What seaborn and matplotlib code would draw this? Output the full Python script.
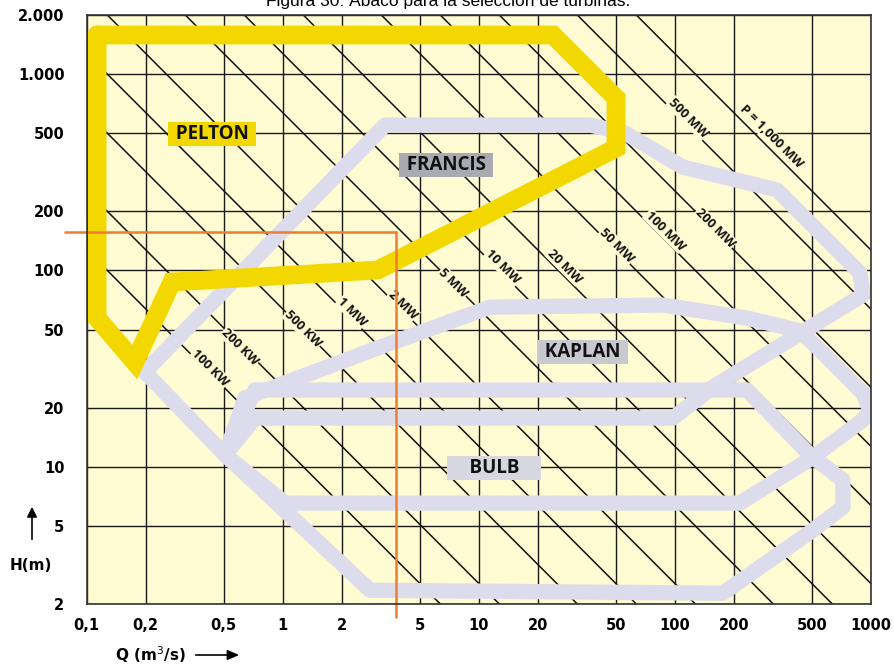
import numpy as np
import pandas as pd
import matplotlib
matplotlib.use("Agg")
import matplotlib.pyplot as plt
import seaborn as sns

# ---------------- data ----------------
x_ticks = [0.1, 0.2, 0.5, 1, 2, 5, 10, 20, 50, 100, 200, 500, 1000]
x_tick_labels = ["0,1", "0,2", "0,5", "1", "2", "5", "10", "20", "50", "100", "200", "500", "1000"]
y_ticks = [2, 5, 10, 20, 50, 100, 200, 500, 1000, 2000]
y_tick_labels = ["2", "5", "10", "20", "50", "100", "200", "500", "1.000", "2.000"]

power_kw = [100, 200, 500, 1e3, 2e3, 5e3, 1e4, 2e4, 5e4, 1e5, 2e5, 5e5, 1e6]
power_labels = ["100 KW", "200 KW", "500 KW", "1 MW", "2 MW", "5 MW", "10 MW",
                "20 MW", "50 MW", "100 MW", "200 MW", "500 MW", "P = 1,000 MW"]
label_q = [0.426, 0.606, 1.27, 2.26, 4.11, 7.40, 13.3, 27.5, 50.8, 89.3, 160.7, 117, 310]
label_h = [31.8, 40.7, 50.3, 61.4, 66.7, 86.3, 104, 105, 134, 159, 164, 597, 478]
kw_per_qh = 7.85  # P = 0.8 * 9.81 * Q * H

pelton_q = [0.113, 23.9, 50.2, 50.2, 3.06, 0.272, 0.176, 0.113, 0.113]
pelton_h = [1582, 1582, 755, 420, 100.5, 87.3, 34.1, 57.2, 1582]

francis_q = [0.198, 3.33, 37.0, 55.8, 110, 333, 882, 913, 157, 98, 0.722, 0.508, 0.198]
francis_h = [30.4, 550, 550, 501, 336, 257, 97, 75, 25.5, 17.7, 17.7, 11.5, 30.4]

kaplan_q = [0.643, 3.14, 11.4, 87, 234, 421, 508, 913, 992, 913, 508, 215, 1.03, 0.508, 0.643]
kaplan_h = [22.4, 40.7, 65, 66.6, 57.2, 49.7, 42.7, 23.7, 19.4, 17.3, 11.2, 6.53, 6.53, 11.5, 22.4]

bulb_q = [0.722, 234, 490, 722, 722, 508, 176, 2.79, 0.508, 0.722]
bulb_h = [24.6, 24.6, 11.5, 8.55, 6.23, 4.76, 2.27, 2.35, 11.5, 24.6]

region_names = [" PELTON ", " FRANCIS ", " KAPLAN ", "    BULB    "]
region_label_q = [0.436, 6.81, 34.0, 11.97]
region_label_h = [495, 344, 38.4, 9.85]

crosshair_q = [0.0775, 3.78, 3.78]
crosshair_h = [157, 157, 1.71]

# ---------------- style ----------------
sns.set_theme(style="white")
plt.rcParams["font.family"] = ["Open Sans", "DejaVu Sans"]

BG = "#FFFBD2"
YEL = "#F2D700"
GREY = "#DCDCEC"
ORANGE = "#EE7D31"
TICKFONT = ["DejaVu Sans"]

fig = plt.figure(figsize=(8.95, 6.66), dpi=100)
fig.patch.set_facecolor("white")
ax = fig.add_axes([86.7 / 895, 62 / 666, 784 / 895, 589 / 666])
ax.set_facecolor(BG)
ax.set_xscale("log")
ax.set_yscale("log")
ax.set_xlim(0.1, 1000)
ax.set_ylim(2, 2000)

# grid
for xv in x_ticks:
    ax.axvline(xv, color="#1a1a1a", lw=1.0, zorder=1)
for yv in y_ticks:
    ax.axhline(yv, color="#1a1a1a", lw=1.0, zorder=1)

# power lines
qq = np.logspace(-2, 4, 50)
rows = []
for p in power_kw:
    for q in qq:
        rows.append({"Q": q, "H": p / (kw_per_qh * q), "P": p})
df_lines = pd.DataFrame(rows)
sns.lineplot(data=df_lines, x="Q", y="H", units="P", estimator=None, sort=False,
             color="#111111", lw=1.1, ax=ax, zorder=2, legend=False)

for lab, q, h in zip(power_labels, label_q, label_h):
    ax.text(q, h, lab, rotation=-45, rotation_mode="anchor", ha="center", va="center",
            fontsize=9.3, fontweight="bold", color="#111111", zorder=3,
            bbox=dict(boxstyle="square,pad=0.05", fc=BG, ec="none"))

# regions
def band(qs, hs, color, lw, z, join):
    d = pd.DataFrame({"Q": qs, "H": hs})
    sns.lineplot(data=d, x="Q", y="H", sort=False, estimator=None, color=color,
                 lw=lw, ax=ax, zorder=z, legend=False, solid_joinstyle=join,
                 solid_capstyle="round")

band(bulb_q, bulb_h, GREY, 11, 4, "round")
band(kaplan_q, kaplan_h, GREY, 11, 4, "round")
band(francis_q, francis_h, GREY, 11, 4, "round")
band(pelton_q, pelton_h, YEL, 13.5, 5, "miter")

box_colors = [YEL, "#A9AAB2", "#C8C9CE", "#D6D7DF"]
for name, q, h, bc in zip(region_names, region_label_q, region_label_h, box_colors):
    ax.text(q, h, name, ha="center", va="center", fontsize=13.5, fontweight="bold",
            color="#111111", zorder=7,
            bbox=dict(boxstyle="square,pad=0.12", fc=bc, ec="none"))

# crosshair
ax.plot(crosshair_q[:2], crosshair_h[:2], color=ORANGE, lw=1.8, zorder=8, clip_on=False)
ax.plot(crosshair_q[1:], crosshair_h[1:], color=ORANGE, lw=1.8, zorder=8, clip_on=False)

# axes styling
for s in ax.spines.values():
    s.set_color("#333333")
    s.set_linewidth(1.2)
    s.set_zorder(9)
ax.set_xticks(x_ticks)
ax.set_xticklabels(x_tick_labels)
ax.set_yticks(y_ticks)
ax.set_yticklabels(y_tick_labels)
ax.minorticks_off()
ax.tick_params(axis="y", length=8, width=1.2, color="#333333", pad=8, labelsize=10.5,
               labelcolor="black")
ax.tick_params(axis="x", length=0, pad=10, labelsize=10.5, labelcolor="black")
for t in ax.get_xticklabels() + ax.get_yticklabels():
    t.set_fontweight("bold")
    t.set_family(TICKFONT)
ax.set_xlabel("")
ax.set_ylabel("")

# axis titles
fig.text(10 / 895, 1 - 565 / 666, "H(m)", fontsize=11, fontweight="bold", va="center", ha="left",
         family=TICKFONT, color="black")
fig.add_artist(matplotlib.patches.FancyArrowPatch((32 / 895, 1 - 542 / 666), (32 / 895, 1 - 504 / 666),
               transform=fig.transFigure, arrowstyle="-|>,head_length=6,head_width=3", color="black", lw=1.2))
fig.text(115 / 895, 1 - 655 / 666, "Q (m$^3$/s)", fontsize=11, fontweight="bold", va="center", ha="left",
         family=TICKFONT, color="black")
fig.add_artist(matplotlib.patches.FancyArrowPatch((193 / 895, 1 - 655 / 666), (242 / 895, 1 - 655 / 666),
               transform=fig.transFigure, arrowstyle="-|>,head_length=7,head_width=3", color="black", lw=1.2))

fig.text(448 / 895, 1 - 6 / 666, "Figura 30: Ábaco para la selección de turbinas.",
         fontsize=12.5, ha="center", va="baseline", color="black",
         family=["Liberation Sans", "DejaVu Sans"])

fig.savefig("out.png", dpi=100)
